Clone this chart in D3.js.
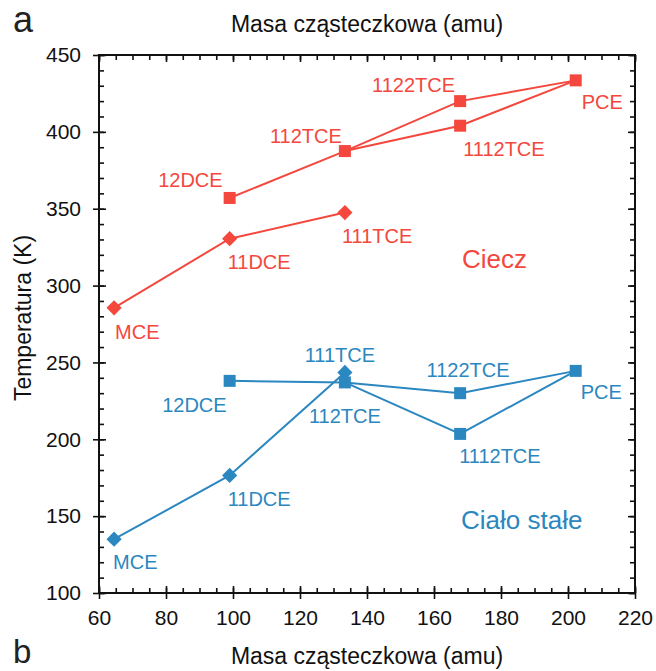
<!DOCTYPE html>
<html><head><meta charset="utf-8">
<script src="https://cdn.jsdelivr.net/npm/d3@7"></script>
<style>
body{margin:0;background:#fff;}
text{font-family:Arial,"Liberation Sans",Helvetica,sans-serif;}
</style></head>
<body><svg id="c" width="656" height="671"></svg>
<script>
// ---- data ----
const compounds = ["MCE","11DCE","12DCE","111TCE","112TCE","1112TCE","1122TCE","PCE"];
const molarMass = [64.5, 99, 99, 133.4, 133.4, 167.8, 167.8, 202.3];
const liquidT  = [285.5, 330.5, 357, 347.5, 387.5, 404, 420, 433.5];
const solidT   = [135, 176.5, 238, 243.5, 237, 203.5, 230, 244.5];
const markerShape = ["diamond","diamond","square","diamond","square","square","square","square"];
const connections = [["MCE","11DCE","111TCE"],["12DCE","112TCE","1122TCE","PCE"],["112TCE","1112TCE","PCE"]];
const xMajorTicks = [60,80,100,120,140,160,180,200,220];
const yMajorTicks = [100,150,200,250,300,350,400,450];
const phaseLabels = ["Ciecz","Ciało stałe"];

// ---- label placement (styling) ----
const liqLabelPos = {MCE:[1,31,"start"],"11DCE":[-2,30,"start"],"12DCE":[-7,-11,"end"],"111TCE":[-3,30,"start"],
  "112TCE":[-3,-8,"end"],"1112TCE":[3,30,"start"],"1122TCE":[-5,-9,"end"],PCE:[6,29,"start"]};
const solLabelPos = {MCE:[-1,30,"start"],"11DCE":[-2,31,"start"],"12DCE":[-3,31,"end"],"111TCE":[-5,-10,"middle"],
  "112TCE":[0,41,"middle"],"1112TCE":[-1,29,"start"],"1122TCE":[8,-16,"middle"],PCE:[5,28,"start"]};

const RED = "#f4473d", BLUE = "#2b87c0";
const L = 99, R = 635, T = 55, B = 593;
const svg = d3.select("#c");
const x = d3.scaleLinear().domain([60,220]).range([L,R]);
const y = d3.scaleLinear().domain([100,450]).range([B,T]);

const xMinor = d3.range(60,221,5), yMinor = d3.range(100,451,10);

function styleAxis(g){ g.select(".domain").remove(); g.selectAll("line").attr("stroke","#111").attr("stroke-width",1.6); }

// bottom: minor inward, major crossing, labels
svg.append("g").attr("transform",`translate(0,${B})`).call(d3.axisBottom(x).tickValues(xMinor).tickSize(-5).tickFormat("")).call(styleAxis);
svg.append("g").attr("transform",`translate(0,${B})`).call(d3.axisBottom(x).tickValues(xMajorTicks).tickSize(6).tickPadding(11).tickFormat(d3.format("d")))
  .call(styleAxis).call(g=>g.selectAll("text").attr("font-size",21).attr("fill","#111"));
svg.append("g").attr("transform",`translate(0,${B})`).call(d3.axisBottom(x).tickValues(xMajorTicks).tickSize(-7).tickFormat("")).call(styleAxis);
// top
svg.append("g").attr("transform",`translate(0,${T})`).call(d3.axisTop(x).tickValues(xMinor).tickSize(-5).tickFormat("")).call(styleAxis);
svg.append("g").attr("transform",`translate(0,${T})`).call(d3.axisTop(x).tickValues(xMajorTicks).tickSize(-7).tickFormat("")).call(styleAxis);
// left
svg.append("g").attr("transform",`translate(${L},0)`).call(d3.axisLeft(y).tickValues(yMinor).tickSize(-5).tickFormat("")).call(styleAxis);
svg.append("g").attr("transform",`translate(${L},0)`).call(d3.axisLeft(y).tickValues(yMajorTicks).tickSize(6).tickPadding(12).tickFormat(d3.format("d")))
  .call(styleAxis).call(g=>g.selectAll("text").attr("font-size",21).attr("fill","#111"));
svg.append("g").attr("transform",`translate(${L},0)`).call(d3.axisLeft(y).tickValues(yMajorTicks).tickSize(-7).tickFormat("")).call(styleAxis);
// right
svg.append("g").attr("transform",`translate(${R},0)`).call(d3.axisRight(y).tickValues(yMinor).tickSize(-5).tickFormat("")).call(styleAxis);
svg.append("g").attr("transform",`translate(${R},0)`).call(d3.axisRight(y).tickValues(yMajorTicks).tickSize(-7).tickFormat("")).call(styleAxis);

// frame
svg.append("rect").attr("x",L).attr("y",T).attr("width",R-L).attr("height",B-T)
  .attr("fill","none").attr("stroke","#111").attr("stroke-width",2);

// titles
svg.append("text").attr("x",13).attr("y",32).attr("font-size",36).attr("fill","#222").text("a");
svg.append("text").attr("x",13).attr("y",663).attr("font-size",33).attr("fill","#222").text("b");
svg.append("text").attr("x",(L+R)/2).attr("y",32).attr("text-anchor","middle").attr("font-size",23).attr("fill","#111").text("Masa cząsteczkowa (amu)");
svg.append("text").attr("x",(L+R)/2).attr("y",664).attr("text-anchor","middle").attr("font-size",23).attr("fill","#111").text("Masa cząsteczkowa (amu)");
svg.append("text").attr("transform","translate(31,318) rotate(-90)").attr("text-anchor","middle").attr("font-size",23).attr("fill","#111").text("Temperatura (K)");

function drawSeries(vals, color, labelPos, phaseText, phasePos){
  const idx = name => compounds.indexOf(name);
  const line = d3.line().x(n=>x(molarMass[idx(n)])).y(n=>y(vals[idx(n)]));
  svg.append("g").selectAll("path").data(connections).join("path")
    .attr("d",line).attr("fill","none").attr("stroke",color).attr("stroke-width",2);
  const sq = d3.symbol().type(d3.symbolSquare).size(144);
  const dm = d3.symbol().type(d3.symbolSquare).size(115);
  svg.append("g").selectAll("path").data(compounds).join("path")
    .attr("d",(d,i)=> markerShape[i]==="square" ? sq() : dm())
    .attr("transform",(d,i)=>`translate(${x(molarMass[i])},${y(vals[i])})`+(markerShape[i]==="diamond"?" rotate(45)":""))
    .attr("fill",color);
  svg.append("g").selectAll("text").data(compounds).join("text")
    .attr("x",(d,i)=>x(molarMass[i])+labelPos[d][0])
    .attr("y",(d,i)=>y(vals[i])+labelPos[d][1])
    .attr("text-anchor",d=>labelPos[d][2])
    .attr("font-size",20).attr("fill",color).text(d=>d);
  svg.append("text").attr("x",phasePos[0]).attr("y",phasePos[1]).attr("font-size",26).attr("fill",color).text(phaseText);
}
drawSeries(liquidT, RED, liqLabelPos, phaseLabels[0], [462,268]);
drawSeries(solidT, BLUE, solLabelPos, phaseLabels[1], [461,529]);
</script></body></html>
